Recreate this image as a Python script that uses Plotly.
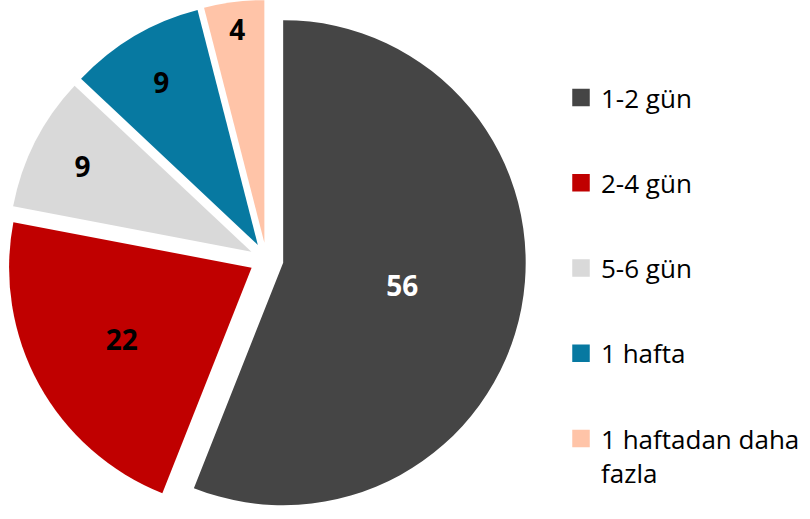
import plotly.graph_objects as go

categories = ["1-2 gün", "2-4 gün", "5-6 gün", "1 hafta", "1 haftadan daha<br>fazla"]
values = [56, 22, 9, 9, 4]
colors = ["#454545", "#C00000", "#D9D9D9", "#0779A1", "#FFC4A8"]
label_colors = ["white", "black", "black", "black", "black"]

fig = go.Figure()
fig.add_trace(go.Pie(
    labels=categories,
    values=values,
    sort=False,
    direction="clockwise",
    rotation=0,
    pull=[0.07] * len(values),
    marker=dict(colors=colors, line=dict(width=0)),
    textinfo="value",
    textposition="inside",
    insidetextorientation="horizontal",
    textfont=dict(family="Open Sans", size=28, color=label_colors, weight="bold"),
    domain=dict(x=[0, 0.658], y=[0, 1]),
    showlegend=False,
    hoverinfo="label+value",
))

for name, col in zip(categories, colors):
    fig.add_trace(go.Scatter(
        x=[None], y=[None], mode="markers",
        marker=dict(symbol="square", size=16, color=col, line=dict(width=1.5, color=col)),
        name=name, legendgroup=name, showlegend=True,
    ))

fig.update_layout(
    width=810, height=519,
    margin=dict(l=0, r=0, t=0, b=0),
    paper_bgcolor="white", plot_bgcolor="white",
    xaxis=dict(visible=False), yaxis=dict(visible=False),
    legend=dict(
        x=0.6926, xanchor="left", y=1 - 74 / 519, yanchor="top",
        font=dict(family="Open Sans", size=26, color="#000000"),
        tracegroupgap=48.5, valign="top", bgcolor="rgba(0,0,0,0)",
    ),
)

fig.write_html(
    "out.html",
    config={"displayModeBar": False},
    post_script="document.body.style.margin='0';",
)
